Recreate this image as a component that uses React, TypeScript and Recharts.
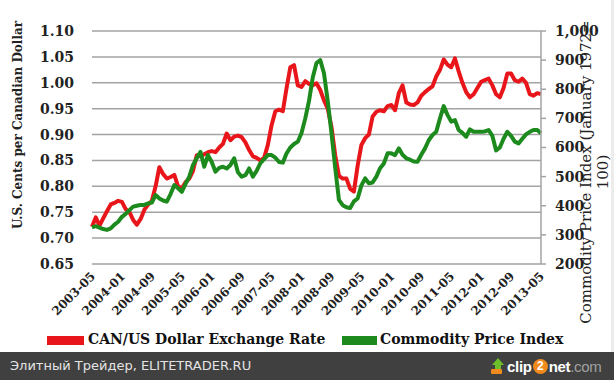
import React from 'react';
import { LineChart, Line, XAxis, YAxis, CartesianGrid, Label } from 'recharts';

// monthly series, 2003-05 .. 2013-05
const START_YEAR = 2003;
const START_MONTH = 5;

const CAD_RATE = [
  0.722, 0.740, 0.724, 0.738, 0.752, 0.765, 0.768, 0.772, // 2003
  0.770, 0.756, 0.750, 0.735, 0.726, 0.737, 0.755, 0.765, 0.772, 0.800, 0.837, 0.824, // 2004
  0.815, 0.818, 0.822, 0.800, 0.796, 0.808, 0.815, 0.830, 0.860, 0.858, 0.862, 0.866, // 2005
  0.868, 0.866, 0.875, 0.882, 0.902, 0.889, 0.896, 0.898, 0.895, 0.885, 0.870, 0.858, // 2006
  0.855, 0.850, 0.855, 0.880, 0.918, 0.945, 0.948, 0.945, 0.990, 1.030, 1.034, 0.995, // 2007
  0.992, 1.003, 0.998, 0.995, 0.999, 0.986, 0.966, 0.950, 0.915, 0.860, 0.820, 0.815, // 2008
  0.815, 0.795, 0.790, 0.840, 0.880, 0.893, 0.900, 0.935, 0.944, 0.947, 0.945, 0.955, // 2009
  0.957, 0.947, 0.980, 0.995, 0.962, 0.958, 0.957, 0.962, 0.975, 0.982, 0.988, 0.993, // 2010
  1.012, 1.025, 1.045, 1.035, 1.030, 1.047, 1.022, 1.000, 0.982, 0.972, 0.978, 0.990, // 2011
  1.002, 1.005, 1.008, 0.995, 0.978, 0.972, 0.990, 1.018, 1.018, 1.005, 1.002, 1.008, // 2012
  1.000, 0.978, 0.975, 0.980, 0.978, // 2013
];

const COMMODITY_INDEX = [
  326, 330, 325, 320, 317, 322, 335, 345, // 2003
  362, 372, 385, 397, 400, 403, 403, 408, 411, 437, 425, 418, // 2004
  414, 440, 471, 460, 448, 475, 500, 540, 563, 585, 534, 574, // 2005
  550, 517, 530, 534, 528, 540, 563, 515, 500, 505, 528, 500, // 2006
  520, 546, 560, 574, 574, 565, 550, 548, 580, 600, 612, 620, // 2007
  650, 700, 760, 840, 890, 900, 855, 760, 650, 530, 420, 402, // 2008
  395, 392, 415, 425, 470, 494, 477, 480, 500, 529, 545, 580, // 2009
  580, 574, 597, 575, 563, 558, 552, 551, 575, 597, 625, 643, // 2010
  654, 700, 742, 712, 689, 694, 660, 650, 637, 662, 654, 654, // 2011
  654, 655, 660, 640, 590, 600, 630, 654, 640, 620, 614, 630, // 2012
  645, 654, 660, 660, 649, // 2013
];

const LEFT_TICKS = [0.65, 0.7, 0.75, 0.8, 0.85, 0.9, 0.95, 1.0, 1.05, 1.1];
const RIGHT_TICKS = [200, 300, 400, 500, 600, 700, 800, 900, 1000];

const SERIES_NAMES = ['CAN/US Dollar Exchange Rate', 'Commodity Price Index'];
const RED = '#e8161b';
const GREEN = '#1d8a1d';
const SERIF = '"DejaVu Serif", serif';

const months = CAD_RATE.map((_, i) => {
  const m = START_MONTH - 1 + i;
  const year = START_YEAR + Math.floor(m / 12);
  return `${year}-${String((m % 12) + 1).padStart(2, '0')}`;
});

const data = months.map((month, i) => ({
  month,
  cad: CAD_RATE[i],
  cpi: COMMODITY_INDEX[i],
}));

const XTick = ({ x, y, payload }: any) => (
  <g transform={`translate(${x + 4},${y + 13})`}>
    <text textAnchor="end" transform="rotate(-45)" fontSize={12} fontWeight="bold" fontFamily={SERIF} fill="#222">
      {payload.value}
    </text>
  </g>
);

const LeftTitle = () => (
  <text x={22} y={125} transform="rotate(-90 22 125)" textAnchor="middle" fontSize={12} fontWeight="bold" fontFamily={SERIF} fill="#222">
    U.S. Cents per Canadian Dollar
  </text>
);

const RightTitle = () => (
  <g fontSize={15} fontFamily={SERIF} fill="#222" textAnchor="middle">
    <text x={591} y={172} transform="rotate(-90 591 172)">Commodity Price Index (January 1972=</text>
    <text x={608} y={172} transform="rotate(-90 608 172)">100)</text>
  </g>
);

export default function App() {
  return (
    <div style={{ position: 'absolute', left: 0, top: 0, width: 614, height: 380, background: '#fff', overflow: 'hidden' }}>
      <LineChart width={614} height={352} data={data} margin={{ top: 31, right: 0, bottom: 0, left: 0 }}>
        <CartesianGrid yAxisId="left" vertical={false} stroke="#a3a3a3" strokeWidth={1.5} />
        <XAxis
          dataKey="month"
          scale="point"
          padding={{ left: 0, right: 0 }}
          interval={7}
          height={88}
          axisLine={false}
          tickLine={false}
          tickSize={0}
          tickMargin={0}
          tick={<XTick />}
        />
        <YAxis
          yAxisId="left"
          width={92}
          domain={[0.65, 1.1]}
          ticks={LEFT_TICKS}
          tickFormatter={(v: number) => v.toFixed(2)}
          axisLine={false}
          tickLine={false}
          tickSize={0}
          tickMargin={18}
          tick={{ fontSize: 14, fontWeight: 'bold', fontFamily: SERIF, fill: '#222' }}
          label={<Label content={<LeftTitle />} />}
        />
        <YAxis
          yAxisId="right"
          orientation="right"
          width={73}
          domain={[200, 1000]}
          ticks={RIGHT_TICKS}
          tickFormatter={(v: number) => v.toLocaleString('en-US')}
          axisLine={{ stroke: '#a3a3a3', strokeWidth: 1.5 }}
          tickLine={{ stroke: '#a3a3a3', strokeWidth: 1.5 }}
          tickSize={5}
          tickMargin={9}
          tick={{ fontSize: 14, fontWeight: 'bold', fontFamily: SERIF, fill: '#222' }}
          label={<Label content={<RightTitle />} />}
        />
        <Line yAxisId="left" dataKey="cad" name={SERIES_NAMES[0]} stroke={RED} strokeWidth={4} dot={false} strokeLinejoin="round" isAnimationActive={false} />
        <Line yAxisId="right" dataKey="cpi" name={SERIES_NAMES[1]} stroke={GREEN} strokeWidth={4} dot={false} strokeLinejoin="round" isAnimationActive={false} />
      </LineChart>

      {/* legend */}
      <div style={{ position: 'absolute', left: 47, top: 336, width: 37, height: 9, background: RED }} />
      <div style={{ position: 'absolute', left: 88, top: 330, fontFamily: SERIF, fontWeight: 'bold', fontSize: 14, lineHeight: '18px', color: '#111' }}>
        {SERIES_NAMES[0]}
      </div>
      <div style={{ position: 'absolute', left: 342, top: 336, width: 35, height: 9, background: GREEN }} />
      <div style={{ position: 'absolute', left: 380, top: 330, fontFamily: SERIF, fontWeight: 'bold', fontSize: 14, lineHeight: '18px', color: '#111' }}>
        {SERIES_NAMES[1]}
      </div>

      <div style={{ position: 'absolute', left: 611, top: 0, width: 3, height: 352, background: '#ececec' }} />

      {/* footer bar */}
      <div style={{ position: 'absolute', left: 0, top: 352, width: 614, height: 28, background: '#404040' }}>
        <div style={{ position: 'absolute', left: 10, top: 0, lineHeight: '28px', fontSize: 13, fontFamily: '"DejaVu Sans", sans-serif', color: '#e4e4e4' }}>
          Элитный Трейдер, ELITETRADER.RU
        </div>
        <div style={{ position: 'absolute', left: 490, top: 0, height: 28, display: 'flex', alignItems: 'center', fontFamily: '"Liberation Sans", Arial, sans-serif', fontSize: 15, fontWeight: 'bold', color: '#fff', letterSpacing: -0.3 }}>
          <svg width={15} height={18} style={{ marginRight: 2 }}>
            <polygon points="8,1 14,8 11,8 11,12 5,12 5,8 2,8" fill="#6cbf2a" />
            <rect x={1} y={12} width={11} height={5} rx={1} fill="#f08a1c" />
          </svg>
          <span>clip</span>
          <span style={{ display: 'inline-block', width: 15, height: 15, borderRadius: 8, background: '#f08a1c', color: '#fff', fontSize: 12, lineHeight: '15px', textAlign: 'center', margin: '0 1px' }}>2</span>
          <span>net</span>
          <span style={{ color: '#a0a0a0', fontWeight: 'normal' }}>.com</span>
        </div>
      </div>
    </div>
  );
}
